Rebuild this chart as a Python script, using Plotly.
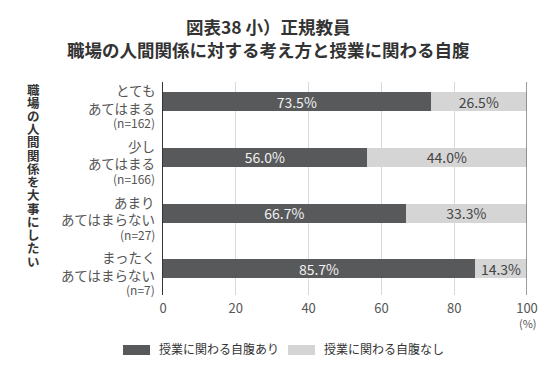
import plotly.graph_objects as go

categories = [["とても", "あてはまる"], ["少し", "あてはまる"], ["あまり", "あてはまらない"], ["まったく", "あてはまらない"]]
counts = ["(n=162)", "(n=166)", "(n=27)", "(n=7)"]
yes_vals = [73.5, 56.0, 66.7, 85.7]
no_vals = [26.5, 44.0, 33.3, 14.3]
series_names = ["授業に関わる自腹あり", "授業に関わる自腹なし"]
x_ticks = [0, 20, 40, 60, 80, 100]
title_lines = ["図表38 小）正規教員", "職場の人間関係に対する考え方と授業に関わる自腹"]
vertical_title = "職場の人間関係を大事にしたい"

FONT = "Noto Sans CJK JP"
DARK = "#58595b"
LIGHT = "#d5d5d6"

# plot area in pixels
L, R, T, B = 163, 527, 82, 295
W, H = 550, 371
DY = 4  # compensation for CJK font vertical metrics


def px2x(px):
    return (px - L) / (R - L)


def py2y(py):
    return 1 - (py - T) / (B - T)


rows = list(range(len(categories)))

fig = go.Figure()
fig.add_trace(go.Bar(
    y=rows, x=yes_vals, orientation="h", name=series_names[0],
    marker=dict(color=DARK, line=dict(width=0)),
    text=[f"{v:.1f}%" for v in yes_vals], textposition="inside", insidetextanchor="middle",
    constraintext="none", cliponaxis=False,
    textfont=dict(color="#f2f2f2", size=14, family=FONT), width=0.34,
))
fig.add_trace(go.Bar(
    y=rows, x=no_vals, orientation="h", name=series_names[1],
    marker=dict(color=LIGHT, line=dict(width=0)),
    text=[f"{v:.1f}%" for v in no_vals], textposition="inside", insidetextanchor="middle",
    constraintext="none", cliponaxis=False,
    textfont=dict(color="#444444", size=14, family=FONT), width=0.34,
))

fig.update_layout(
    width=W, height=H,
    barmode="stack",
    paper_bgcolor="white", plot_bgcolor="white",
    margin=dict(l=L, r=W - R, t=T, b=H - B, autoexpand=False),
    font=dict(family=FONT, color="#444444"),
    showlegend=False,
    hovermode=False,
)
fig.update_xaxes(
    range=[0, 100], tickvals=x_ticks, ticktext=[str(t) for t in x_ticks],
    showgrid=True, gridcolor="#d9d9d9", gridwidth=1, zeroline=False,
    tickfont=dict(size=13, color="#555555"), ticks="", showline=False, ticklabelstandoff=4,
)
fig.update_yaxes(
    range=[3.47, -0.35], showticklabels=False, showgrid=False, zeroline=False,
    showline=True, linecolor="#333333", linewidth=1.5, ticks="",
)
# 100% reference line
fig.add_shape(type="line", xref="x", yref="paper", x0=100, x1=100, y0=0, y1=1,
              line=dict(color="#7a7a7a", width=1.5))

# category labels
for i, (lines, n) in enumerate(zip(categories, counts)):
    for txt, shift, size in [(lines[0], 7.5, 13.5), (lines[1], -10, 13.5), (n, -25, 12)]:
        fig.add_annotation(text=txt, xref="paper", yref="y", x=px2x(157), y=i,
                           xanchor="right", yanchor="middle", yshift=shift + DY, showarrow=False,
                           font=dict(size=size, color="#555555", family=FONT))

# title
for txt, py in zip(title_lines, [30, 53]):
    fig.add_annotation(text=f"<b>{txt}</b>", xref="paper", yref="paper", x=px2x(268), y=py2y(py),
                       xanchor="center", yanchor="middle", yshift=DY, showarrow=False,
                       font=dict(size=17.5, color="#333333", family=FONT))

# vertical axis title (stacked characters)
n_chars = len(vertical_title)
for k, ch in enumerate(vertical_title):
    py = 93 + k * (265 - 93) / (n_chars - 1)
    fig.add_annotation(text=f"<b>{ch}</b>", xref="paper", yref="paper", x=px2x(33), y=py2y(py),
                       xanchor="center", yanchor="middle", yshift=DY, showarrow=False,
                       font=dict(size=12.5, color="#333333", family=FONT))

fig.add_annotation(text="(%)", xref="paper", yref="paper", x=px2x(528), y=py2y(325),
                   xanchor="center", yanchor="middle", yshift=2, showarrow=False,
                   font=dict(size=11, color="#555555", family=FONT))

# legend (drawn manually)
for (x0, x1, tx), color, name in zip([(123, 150, 157), (288, 315, 322)], [DARK, LIGHT], series_names):
    fig.add_shape(type="rect", xref="paper", yref="paper", x0=px2x(x0), x1=px2x(x1),
                  y0=py2y(345), y1=py2y(355), fillcolor=color, line=dict(width=0))
    fig.add_annotation(text=name, xref="paper", yref="paper", x=px2x(tx), y=py2y(350),
                       xanchor="left", yanchor="middle", yshift=2, showarrow=False,
                       font=dict(size=12, color="#333333", family=FONT))

fig.write_html("out.html", config={"displayModeBar": False, "staticPlot": True},
               post_script="document.body.style.margin='0';document.body.style.overflow='hidden';")
